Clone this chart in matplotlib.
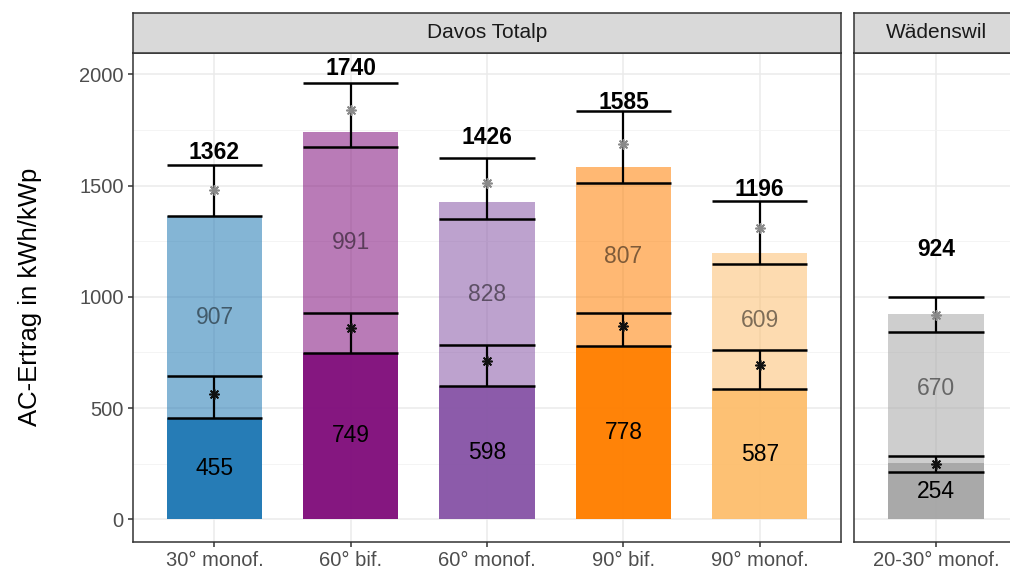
import matplotlib
matplotlib.use("Agg")
import matplotlib.pyplot as plt
import numpy as np

plt.rcParams['font.family'] = ['Liberation Sans', 'DejaVu Sans']

# --- data -------------------------------------------------------------
sites = ["Davos Totalp", "Wädenswil"]
site_categories = [
    ["30° monof.", "60° bif.", "60° monof.", "90° bif.", "90° monof."],
    ["20-30° monof."],
]
# winter (lower) and summer (upper) yield, kWh/kWp
winter = [[455, 749, 598, 778, 587], [254]]
summer = [[907, 991, 828, 807, 609], [670]]

# range bars and reference points for the winter part
winter_lo = [[455, 749, 598, 778, 587], [214]]
winter_hi = [[644, 926, 782, 926, 762], [286]]
winter_pt = [[562, 858, 711, 869, 693], [247]]

# range bars and reference points for the annual total
total_lo = [[1362, 1675, 1350, 1513, 1147], [843]]
total_hi = [[1594, 1959, 1625, 1835, 1432], [1000]]
total_pt = [[1480, 1840, 1513, 1687, 1311], [917]]

bar_colors = [["#1F78B4", "#810F7C", "#8856A7", "#FF7F00", "#FDBF6F"], ["#A6A6A6"]]

# --- layout ------------------------------------------------------------
W, H = 1010, 572
fig = plt.figure(figsize=(W / 100, H / 100), dpi=100)

def fx(px):
    return px / W

def fy(py):
    return 1 - py / H

panel_top, panel_bot = 52.7, 541.7
strip_top = 13.3
unit_px = 136.3
panels = [(132.7, 5), (854.3, 1)]

edge = "#333333"
ymin, ymax = -100.6, 2097
bw = 0.7

axes = []
for i, (left_px, n) in enumerate(panels):
    width_px = (n - 1 + 1.2) * unit_px
    ax = fig.add_axes([fx(left_px), fy(panel_bot), fx(width_px),
                       (panel_bot - panel_top) / H])
    sax = fig.add_axes([fx(left_px), fy(panel_top), fx(width_px),
                        (panel_top - strip_top) / H])
    sax.set_facecolor("#D9D9D9")
    sax.set_xticks([]); sax.set_yticks([])
    for s in sax.spines.values():
        s.set_color(edge); s.set_linewidth(1.1)
    # centre strip text over the panel's data range
    sax.set_xlim(-0.6, n - 0.4)
    sax.text((n - 1) / 2, 0.5, sites[i], ha="center", va="center",
             fontsize=15, color="#1A1A1A", transform=sax.get_xaxis_transform())

    cats = site_categories[i]
    x = np.arange(len(cats))
    w = np.array(winter[i]); s_ = np.array(summer[i])
    tot = w + s_

    ax.set_xlim(-0.6, n - 0.4)
    ax.set_ylim(ymin, ymax)
    ax.set_yticks([0, 500, 1000, 1500, 2000])
    ax.set_yticks([250, 750, 1250, 1750], minor=True)
    ax.set_xticks(x)
    ax.set_xticklabels(cats)
    ax.grid(which="major", color="#EBEBEB", lw=1.1, zorder=0)
    ax.grid(which="minor", axis="y", color="#F2F2F2", lw=0.6, zorder=0)
    ax.set_axisbelow(True)
    for sp in ax.spines.values():
        sp.set_color(edge); sp.set_linewidth(1.1)
    ax.tick_params(axis="both", which="major", colors=edge, length=3.6, width=1.1,
                   labelsize=14.5, labelcolor="#4D4D4D", pad=3)
    ax.tick_params(axis="both", which="minor", length=0)
    if i > 0:
        ax.tick_params(axis="y", which="major", length=0, labelleft=False)

    cols = bar_colors[i]
    ax.bar(x, w, width=bw, color=cols, alpha=0.97, lw=0, zorder=2)
    ax.bar(x, s_, bottom=w, width=bw, color=cols, alpha=0.55, lw=0, zorder=2)

    # range bars
    for lo, hi, pt, pc in [(winter_lo[i], winter_hi[i], winter_pt[i], "#111111"),
                           (total_lo[i], total_hi[i], total_pt[i], "#8A8A8A")]:
        ax.vlines(x, lo, hi, color="black", lw=1.6, zorder=3)
        ax.hlines(lo, x - bw / 2, x + bw / 2, color="black", lw=1.8, zorder=3)
        ax.hlines(hi, x - bw / 2, x + bw / 2, color="black", lw=1.8, zorder=3)
        ax.scatter(x, pt, marker=(8, 2, 0), s=45, color=pc, linewidths=1.2, zorder=4)

    # segment and total labels
    for xi, wi, si, ti in zip(x, w, s_, tot):
        ax.text(xi, wi / 2, f"{wi}", ha="center", va="center", fontsize=16.5,
                color="black", zorder=5)
        ax.text(xi, wi + si / 2, f"{si}", ha="center", va="center", fontsize=16.5,
                color="black", alpha=0.5, zorder=5)
        ax.text(xi, ti + 288, f"{ti}", ha="center", va="center", fontsize=16.5,
                fontweight="bold", color="black", zorder=5)
    axes.append(ax)

fig.text(fx(30), fy((panel_top + panel_bot) / 2), "AC-Ertrag in kWh/kWp",
         rotation=90, ha="center", va="center", fontsize=18.5, color="black")

fig.savefig("out.png", dpi=100)
